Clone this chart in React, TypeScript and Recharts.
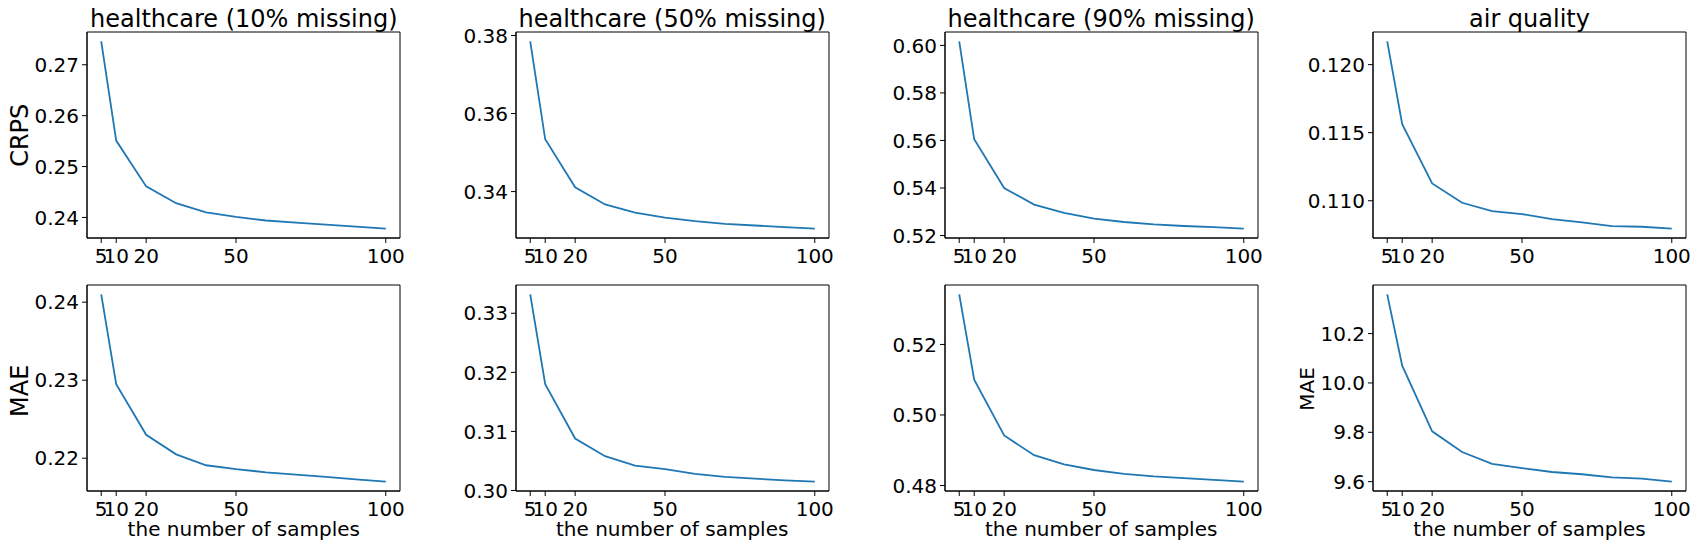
import { LineChart, Line, XAxis, YAxis, ReferenceArea } from "recharts"

const FONT = "'DejaVu Sans', sans-serif"
const BLUE = "#1f77b4"

// number of samples on the x axis
const samples = [5, 10, 20, 30, 40, 50, 60, 70, 80, 90, 100]

// CRPS (top row)
const crpsHealth10 = [0.2746, 0.2551, 0.2461, 0.2428, 0.241, 0.2401, 0.2394, 0.239, 0.2386, 0.2382, 0.2378]
const crpsHealth50 = [0.3785, 0.3534, 0.3411, 0.3367, 0.3346, 0.3333, 0.3324, 0.3317, 0.3313, 0.3309, 0.3305]
const crpsHealth90 = [0.6017, 0.5605, 0.54, 0.533, 0.5295, 0.5271, 0.5257, 0.5247, 0.524, 0.5235, 0.5229]
const crpsAir = [0.12171, 0.11562, 0.11127, 0.10985, 0.10924, 0.10902, 0.10865, 0.10841, 0.10814, 0.10809, 0.10795]

// MAE (bottom row)
const maeHealth10 = [0.241, 0.2295, 0.223, 0.2205, 0.2191, 0.2186, 0.2182, 0.2179, 0.2176, 0.2173, 0.217]
const maeHealth50 = [0.3332, 0.318, 0.3088, 0.3058, 0.3042, 0.3036, 0.3028, 0.3023, 0.302, 0.3017, 0.3015]
const maeHealth90 = [0.5342, 0.51, 0.4942, 0.4886, 0.486, 0.4844, 0.4833, 0.4826, 0.4821, 0.4816, 0.4811]
const maeAir = [10.359, 10.07, 9.804, 9.72, 9.672, 9.655, 9.639, 9.63, 9.617, 9.612, 9.6]

// tick labels
const xTicks = [5, 10, 20, 50, 100]
const crpsHealth10Ticks = [0.24, 0.25, 0.26, 0.27]
const crpsHealth50Ticks = [0.34, 0.36, 0.38]
const crpsHealth90Ticks = [0.52, 0.54, 0.56, 0.58, 0.6]
const crpsAirTicks = [0.11, 0.115, 0.12]
const maeHealth10Ticks = [0.22, 0.23, 0.24]
const maeHealth50Ticks = [0.3, 0.31, 0.32, 0.33]
const maeHealth90Ticks = [0.48, 0.5, 0.52]
const maeAirTicks = [9.6, 9.8, 10.0, 10.2]

const titles = ["healthcare (10% missing)", "healthcare (50% missing)", "healthcare (90% missing)", "air quality"]
const xLabel = "the number of samples"

// layout
const PLOT_W = 313
const PLOT_H = 206
const Y_W = 80
const X_H = 30
const M_TOP = 14
const M_RIGHT = 26
const colLeft = [87.3, 515.7, 944.7, 1373]
const rowTop = [32.3, 285]
const X_DOMAIN: [number, number] = [0.25, 104.75]

// matplotlib-like 5% autoscale margin
function pad(vals: number[]): [number, number] {
  const lo = Math.min(...vals)
  const hi = Math.max(...vals)
  const d = (hi - lo) * 0.05
  return [lo - d, hi + d]
}

function XTick(props: any) {
  const { x, y, payload } = props
  return (
    <text x={x} y={y} dy="0.73em" textAnchor="middle" fontSize={20} fontFamily={FONT} fill="#000">
      {payload.value}
    </text>
  )
}

function YTick(props: any) {
  const { x, y, payload, digits } = props
  return (
    <text x={x} y={y} dy="0.36em" textAnchor="end" fontSize={20} fontFamily={FONT} fill="#000">
      {Number(payload.value).toFixed(digits)}
    </text>
  )
}

interface PanelProps {
  values: number[]
  ticks: number[]
  digits: number
  col: number
  row: number
}

function Panel({ values, ticks, digits, col, row }: PanelProps) {
  const data = samples.map((s, i) => ({ n: s, v: values[i] }))
  const yDomain = pad(values)
  return (
    <div style={{ position: "absolute", left: colLeft[col] - Y_W, top: rowTop[row] - M_TOP }}>
      <LineChart
        width={Y_W + PLOT_W + M_RIGHT}
        height={M_TOP + PLOT_H + X_H}
        data={data}
        margin={{ top: M_TOP, right: M_RIGHT, left: 0, bottom: 0 }}
      >
        <XAxis
          dataKey="n"
          type="number"
          domain={X_DOMAIN}
          ticks={xTicks}
          interval={0}
          allowDataOverflow
          height={X_H}
          stroke="#000"
          tickSize={5}
          tickMargin={5}
          tick={(p: any) => <XTick {...p} />}
        />
        <YAxis
          type="number"
          domain={yDomain}
          ticks={ticks}
          interval={0}
          allowDataOverflow
          width={Y_W}
          stroke="#000"
          tickSize={5}
          tickMargin={3}
          tick={(p: any) => <YTick {...p} digits={digits} />}
        />
        {/* full box frame like matplotlib spines */}
        <ReferenceArea
          x1={X_DOMAIN[0]}
          x2={X_DOMAIN[1]}
          y1={yDomain[0]}
          y2={yDomain[1]}
          fill="none"
          fillOpacity={0}
          stroke="#000"
          strokeWidth={1}
        />
        <Line dataKey="v" stroke={BLUE} strokeWidth={1.8} dot={false} isAnimationActive={false} />
      </LineChart>
    </div>
  )
}

export default function App() {
  const cx = (c: number) => colLeft[c] + PLOT_W / 2
  return (
    <div style={{ position: "absolute", left: 0, top: 0, width: 1698, height: 547, background: "#fff" }}>
      <Panel values={crpsHealth10} ticks={crpsHealth10Ticks} digits={2} col={0} row={0} />
      <Panel values={crpsHealth50} ticks={crpsHealth50Ticks} digits={2} col={1} row={0} />
      <Panel values={crpsHealth90} ticks={crpsHealth90Ticks} digits={2} col={2} row={0} />
      <Panel values={crpsAir} ticks={crpsAirTicks} digits={3} col={3} row={0} />
      <Panel values={maeHealth10} ticks={maeHealth10Ticks} digits={2} col={0} row={1} />
      <Panel values={maeHealth50} ticks={maeHealth50Ticks} digits={2} col={1} row={1} />
      <Panel values={maeHealth90} ticks={maeHealth90Ticks} digits={2} col={2} row={1} />
      <Panel values={maeAir} ticks={maeAirTicks} digits={1} col={3} row={1} />

      <svg
        width={1698}
        height={547}
        style={{ position: "absolute", left: 0, top: 0, pointerEvents: "none" }}
        fontFamily={FONT}
        fill="#000"
      >
        {titles.map((t, i) => (
          <text key={t} x={cx(i)} y={26.5} textAnchor="middle" fontSize={24}>
            {t}
          </text>
        ))}
        {titles.map((t, i) => (
          <text key={"xl" + t} x={cx(i)} y={535.5} textAnchor="middle" fontSize={20}>
            {xLabel}
          </text>
        ))}
        <text transform="translate(28,135.3) rotate(-90)" textAnchor="middle" fontSize={24}>
          CRPS
        </text>
        <text transform="translate(28,390.8) rotate(-90)" textAnchor="middle" fontSize={24}>
          MAE
        </text>
        <text transform="translate(1314,389) rotate(-90)" textAnchor="middle" fontSize={20}>
          MAE
        </text>
      </svg>
    </div>
  )
}
